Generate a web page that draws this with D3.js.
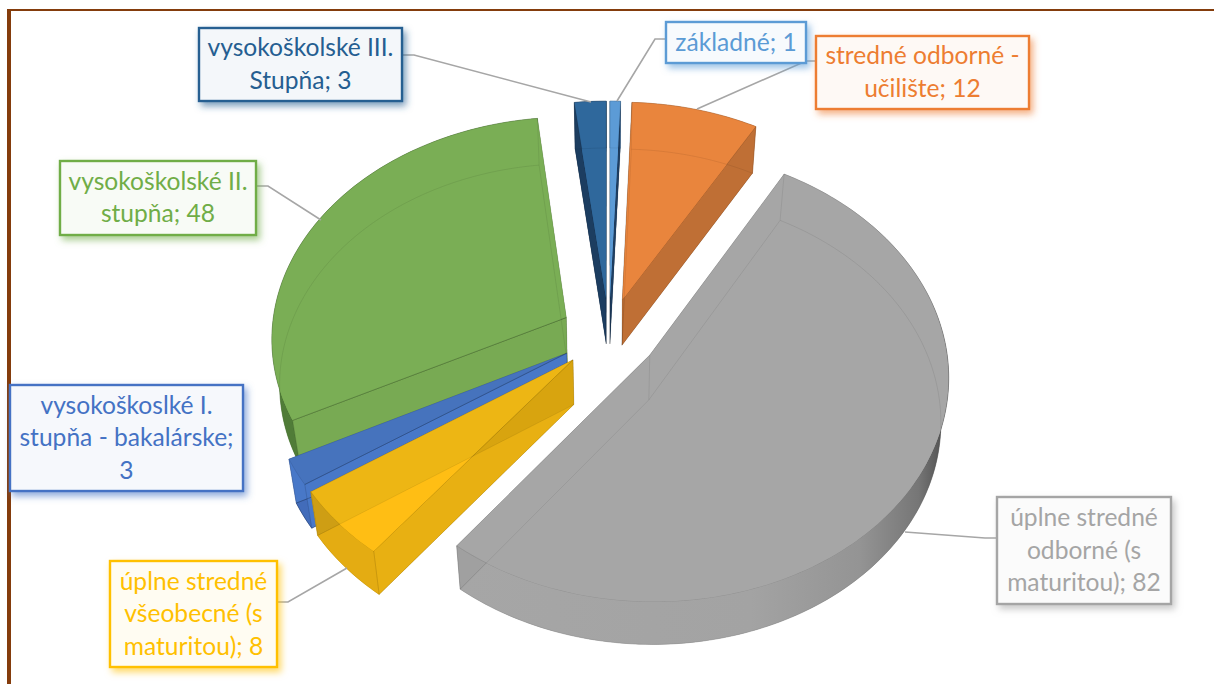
<!DOCTYPE html>
<html>
<head>
  <meta charset="utf-8">
  <script src="https://d3js.org/d3.v7.min.js"></script>
  <style>
    html, body { margin: 0; padding: 0; background: #fff; }
    svg { display: block; }
    text { font-family: Lato, "Open Sans", sans-serif; }
  </style>
</head>
<body>
<script type="text/javascript">
"use strict";

// data, clockwise from 12 o'clock
var categories = ["základné", "stredné odborné - učilište", "úplne stredné odborné (s maturitou)",
    "úplne stredné všeobecné (s maturitou)", "vysokoškoslké I. stupňa - bakalárske",
    "vysokoškolské II. stupňa", "vysokoškolské III. Stupňa"];
var values = [1, 12, 82, 8, 3, 48, 3];
var labelLines = [
    ["základné; 1"],
    ["stredné odborné -", "učilište; 12"],
    ["úplne stredné", "odborné (s", "maturitou); 82"],
    ["úplne stredné", "všeobecné (s", "maturitou); 8"],
    ["vysokoškoslké I.", "stupňa - bakalárske;", "3"],
    ["vysokoškolské II.", "stupňa; 48"],
    ["vysokoškolské III.", "Stupňa; 3"]
];

// styles
var labelColors = ["#5B9BD5", "#ED7D31", "#A5A5A5", "#FFC000", "#4472C4", "#70AD47", "#255E91"];
var topColors = ["#5C9BD6", "#E9853D", "#A6A6A6", "#EDB614", "#4673BD", "#7AAE55", "#2F689C"];
var overlapColors = ["#5C9BD6", "#E9853D", "#A6A6A6", "#FFBE14", "#4C7CD2", "#7AAE55", "#2F689C"];
var wallColors = ["#1F3F63", "#BF6F35", "#A0A0A0", "#E8B012", "#4878C8", "#78AA53", "#1C3D60"];
var outerColors = ["#3F75A8", "#BF6F35", "#A2A2A2", "#E4AC12", "#426CBA", "#507C38", "#1C3D60"];
var edgeOpacity = [0, 0.08, 0, 0.08, 0.2, 0.24, 0];

// layout of the label boxes: left, top, right, bottom
var boxes = [
    [666, 22, 806, 63], [816, 36, 1029, 109], [997, 497, 1171, 604], [110, 561, 277, 667],
    [10, 385, 243, 491], [60, 161, 256, 235], [199, 28, 402, 101]
];
var leaders = [
    [[666, 39], [655, 39], [617, 101]],
    [[816, 61], [806, 61], [697, 109]],
    [[997, 538], [985, 538], [905, 532]],
    [[277, 602], [288, 602], [347, 568]],
    null,
    [[256, 186], [268, 186], [321, 220]],
    [[402, 55], [414, 55], [591, 102]]
];

var width = 1214, height = 684;
var cx = 609, cy = 334.6, rx = 295, ry = 221, persp = 0.088, explode = 0.165, depth = 45;

var svg = d3.select("body").append("svg")
    .attr("width", width)
    .attr("height", height);
var defs = svg.append("defs");

// brown frame
svg.append("rect").attr("x", 7).attr("y", 9).attr("width", 1207).attr("height", 2).attr("fill", "#843C0C");
svg.append("rect").attr("x", 7).attr("y", 9).attr("width", 4).attr("height", 675).attr("fill", "#843C0C");

var xScale = d3.scaleLinear().domain([-1, 1]).range([cx - rx, cx + rx]);
var yScale = d3.scaleLinear().domain([-1, 1]).range([cy + ry, cy - ry]);

// ground plane coordinates to screen, lower = bottom face of the slab
function project(p, lower) {
    var s = 1 / (1 + persp * p[1]);
    var x = xScale(p[0] * s), y = yScale(p[1] * s);
    if (lower) {
        x = cx + (x - cx) * 0.977;
        y = y + depth - (y - cy) * 0.008;
    }
    return [x, y];
}

var pathLine = d3.line();
var polygon = d3.line().curve(d3.curveLinearClosed);

var arcs = d3.pie().sort(null).value(function(d) { return d; })(values);

// back to front
var order = [6, 0, 1, 5, 4, 3, 2];

// grey wall gets darker towards the right side
var grad = defs.append("linearGradient").attr("id", "greyWall")
    .attr("gradientUnits", "userSpaceOnUse")
    .attr("x1", 456).attr("x2", 948).attr("y1", 0).attr("y2", 0);
[[0, "#a6a6a6"], [0.6, "#a3a3a3"], [0.82, "#949494"], [0.94, "#767676"], [1, "#4a4a4a"]].forEach(function(s) {
    grad.append("stop").attr("offset", s[0]).attr("stop-color", s[1]);
});

function clipTo(id, pts) {
    defs.append("clipPath").attr("id", id).append("path").attr("d", polygon(pts));
    return "url(#" + id + ")";
}

order.forEach(function(i) {
    var a = arcs[i];
    var mid = (a.startAngle + a.endAngle) / 2;
    var ox = explode * Math.sin(mid), ov = explode * Math.cos(mid);
    var n = Math.max(2, Math.ceil((a.endAngle - a.startAngle) / 0.02));
    var rim = d3.range(n + 1).map(function(k) {
        var t = a.startAngle + (a.endAngle - a.startAngle) * k / n;
        return [ox + Math.sin(t), ov + Math.cos(t)];
    });
    var apex = [ox, ov];

    var rimTop = rim.map(function(p) { return project(p, false); });
    var rimLow = rim.map(function(p) { return project(p, true); });
    var apexTop = project(apex, false), apexLow = project(apex, true);
    var faceTop = [apexTop].concat(rimTop), faceLow = [apexLow].concat(rimLow);
    var last = rimTop.length - 1;
    var startWall = [apexTop, rimTop[0], rimLow[0], apexLow];
    var endWall = [apexTop, rimTop[last], rimLow[last], apexLow];
    var outerWall = rimTop.concat(rimLow.slice().reverse());

    var g = svg.append("g").attr("class", "slice");
    var outer = i === 2 ? "url(#greyWall)" : outerColors[i];

    g.append("path").attr("d", polygon(faceLow)).attr("fill", wallColors[i]);
    g.append("path").attr("d", polygon(outerWall))
        .attr("fill", outer).attr("stroke", outer).attr("stroke-width", 0.5);
    [endWall, startWall].forEach(function(w) {
        g.append("path").attr("d", polygon(w))
            .attr("fill", wallColors[i]).attr("stroke", "#000").attr("stroke-opacity", 0.1).attr("stroke-width", 0.6);
    });
    g.append("path").attr("d", polygon(faceTop)).attr("fill", topColors[i])
        .attr("stroke", "#000").attr("stroke-opacity", 0.16).attr("stroke-width", 0.6);

    // where top and bottom face overlap the slab looks brighter
    g.append("path").attr("d", polygon(faceLow)).attr("fill", overlapColors[i])
        .attr("clip-path", clipTo("ov" + i, faceTop));

    // translucent walls stacked on each other look darker (only the yellow slice shows it)
    if (i === 3) {
        g.append("path").attr("d", polygon(endWall)).attr("fill", "#8a6a00").attr("fill-opacity", 0.16)
            .attr("clip-path", clipTo("wa" + i, startWall));
        g.append("path").attr("d", polygon(endWall)).attr("fill", "#6a5a20").attr("fill-opacity", 0.2)
            .attr("clip-path", clipTo("wb" + i, outerWall));
    }

    // hidden edges show through faintly
    g.append("path").attr("d", polygon(faceLow)).attr("fill", "none")
        .attr("stroke", "#000").attr("stroke-opacity", i === 4 ? 0.3 : 0.09).attr("stroke-width", 0.8);
    [[apexTop, apexLow], [rimTop[0], rimLow[0]], [rimTop[last], rimLow[last]]].forEach(function(e) {
        g.append("path").attr("d", pathLine(e)).attr("stroke", "#000")
            .attr("stroke-opacity", 0.09).attr("stroke-width", 0.8);
    });
    if (edgeOpacity[i] > 0) {
        g.append("path").attr("d", pathLine([apexTop, rimTop[0]])).attr("stroke", "#000")
            .attr("stroke-opacity", edgeOpacity[i]).attr("stroke-width", 0.9);
    }
});

// leader lines
leaders.forEach(function(l) {
    if (!l) return;
    svg.append("path").attr("d", pathLine(l)).attr("fill", "none")
        .attr("stroke", "#A6A6A6").attr("stroke-width", 1.6);
});

// labels
labelLines.forEach(function(lines, i) {
    var b = boxes[i], c = labelColors[i];
    var f = defs.append("filter").attr("id", "shadow" + i)
        .attr("x", "-20%").attr("y", "-30%").attr("width", "140%").attr("height", "160%");
    f.append("feDropShadow").attr("dx", 3).attr("dy", 4).attr("stdDeviation", 3.5)
        .attr("flood-color", c).attr("flood-opacity", 0.6);
    svg.append("rect")
        .attr("x", b[0]).attr("y", b[1])
        .attr("width", b[2] - b[0]).attr("height", b[3] - b[1])
        .attr("fill", d3.interpolateRgb("#ffffff", c)(0.05))
        .attr("stroke", c).attr("stroke-width", 2.4)
        .attr("filter", "url(#shadow" + i + ")");
    var mx = (b[0] + b[2]) / 2, my = (b[1] + b[3]) / 2, lh = 32.5;
    lines.forEach(function(t, k) {
        svg.append("text")
            .attr("x", mx)
            .attr("y", my + (k - (lines.length - 1) / 2) * lh + 8)
            .attr("text-anchor", "middle")
            .attr("font-size", 24.6)
            .attr("fill", c)
            .text(t);
    });
});
</script>
</body>
</html>
